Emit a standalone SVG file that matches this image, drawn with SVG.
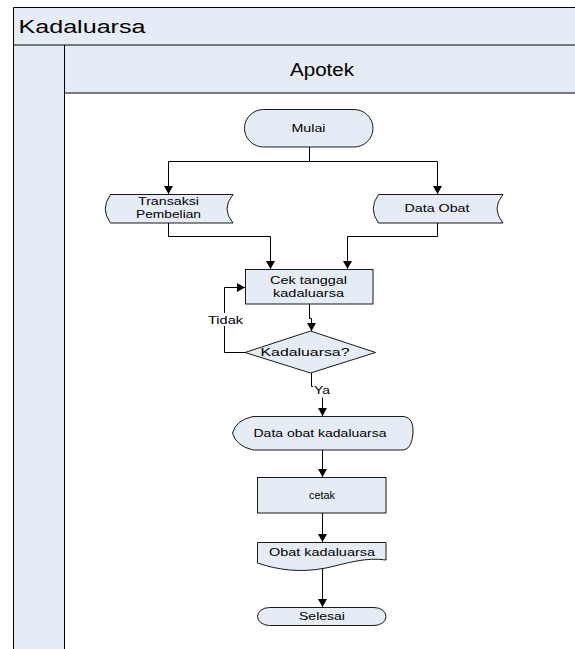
<svg xmlns="http://www.w3.org/2000/svg" width="575" height="649" viewBox="0 0 575 649">
  <defs>
    <marker id="arrow" markerUnits="userSpaceOnUse" markerWidth="9" markerHeight="9" refX="8" refY="4.5" orient="auto">
      <path d="M0,0 L8,4.5 L0,9 Z" fill="#000"/>
    </marker>
    <style>
      .lane { fill: #e6ecf6; stroke: none; }
      .frame { fill: none; stroke: #000; stroke-width: 1; }
      .node { fill: #e6ecf6; stroke: #000; stroke-width: 0.9; }
      .conn { fill: none; stroke: #000; stroke-width: 1; marker-end: url(#arrow); }
      .plain { fill: none; stroke: #000; stroke-width: 1; }
      .t { font-family: "Liberation Sans", Arial, sans-serif; fill: #000; text-anchor: middle; font-size: 10.5px; }
      .big { font-family: "Liberation Sans", Arial, sans-serif; fill: #000; font-size: 17.5px; }
      .lbl { fill: #fff; stroke: none; }
    </style>
  </defs>

  <rect width="575" height="649" fill="#fff"/>

  <!-- swimlane frame -->
  <g id="pool">
    <rect class="lane" x="13.5" y="7.5" width="562" height="37.5"/>
    <rect class="lane" x="13.5" y="45" width="51" height="604"/>
    <rect class="lane" x="64.5" y="45" width="511" height="48"/>
    <path class="frame" d="M576,7.5 H13.5 V649 M13.5,45 H576 M64.5,45 V649 M64.5,93 H576"/>
    <text class="big" x="18.5" y="33" textLength="127" lengthAdjust="spacingAndGlyphs">Kadaluarsa</text>
    <text class="big" x="290" y="76" textLength="64" lengthAdjust="spacingAndGlyphs">Apotek</text>
  </g>

  <!-- connectors -->
  <g id="connectors">
    <path class="conn" d="M309.5,147 V161.5 H168.5 V194"/>
    <path class="conn" d="M309.5,147 V161.5 H437.5 V194"/>
    <path class="conn" d="M168.5,223 V236.5 H270.5 V269"/>
    <path class="conn" d="M437.5,223 V236.5 H347.5 V269"/>
    <path class="conn" d="M309.5,304 V318.5 H311.5 V331"/>
    <path class="conn" d="M245,352.5 H224.5 V287.5 H245"/>
    <path class="conn" d="M311.5,373 V386.5 H322.5 V416"/>
    <path class="conn" d="M322.5,450 V477"/>
    <path class="conn" d="M322.5,513 V542"/>
    <path class="conn" d="M322.5,569 V607"/>
    <rect class="lbl" x="207" y="313" width="37" height="13"/>
    <text class="t" x="225.5" y="323.5" textLength="35" lengthAdjust="spacingAndGlyphs">Tidak</text>
    <rect class="lbl" x="313" y="386" width="18" height="11.5"/>
    <text class="t" x="322" y="394" textLength="16" lengthAdjust="spacingAndGlyphs">Ya</text>
  </g>

  <g id="mulai">
    <rect class="node" x="244.5" y="109.5" width="128.5" height="37.5" rx="19" ry="18.75"/>
    <text class="t" x="308.5" y="132" textLength="34" lengthAdjust="spacingAndGlyphs">Mulai</text>
  </g>

  <g id="transaksi-pembelian">
    <path class="node" d="M110.5,194.5 H233 Q221,208.75 233,223 H110.5 Q100,208.75 110.5,194.5 Z"/>
    <text class="t" x="168.5" y="205" textLength="61" lengthAdjust="spacingAndGlyphs">Transaksi</text>
    <text class="t" x="168.5" y="217.5" textLength="65" lengthAdjust="spacingAndGlyphs">Pembelian</text>
  </g>

  <g id="data-obat">
    <path class="node" d="M378.5,194.5 H503 Q491,208.75 503,223 H378.5 Q368,208.75 378.5,194.5 Z"/>
    <text class="t" x="437" y="212" textLength="65" lengthAdjust="spacingAndGlyphs">Data Obat</text>
  </g>

  <g id="cek-tanggal">
    <rect class="node" x="245.5" y="269.5" width="127.5" height="34.5"/>
    <text class="t" x="308.5" y="283.5" textLength="77" lengthAdjust="spacingAndGlyphs">Cek tanggal</text>
    <text class="t" x="308.5" y="297" textLength="71" lengthAdjust="spacingAndGlyphs">kadaluarsa</text>
  </g>

  <g id="kadaluarsa-decision">
    <path class="node" d="M310.5,331 L375.5,352.5 L310.5,373 L245,352.5 Z"/>
    <text class="t" x="305" y="356" textLength="89" lengthAdjust="spacingAndGlyphs">Kadaluarsa?</text>
  </g>

  <g id="data-obat-kadaluarsa">
    <path class="node" d="M253,416.5 H404 Q414,418 413,433 Q412,448 404,450 H253 Q236,446 232.5,433 Q236,420 253,416.5 Z"/>
    <text class="t" x="320" y="437" textLength="133" lengthAdjust="spacingAndGlyphs">Data obat kadaluarsa</text>
  </g>

  <g id="cetak">
    <rect class="node" x="257.5" y="477.5" width="128.5" height="35.5"/>
    <text class="t" x="322" y="498.5" textLength="26" lengthAdjust="spacingAndGlyphs">cetak</text>
  </g>

  <g id="obat-kadaluarsa">
    <path class="node" d="M257.5,542.5 H386 V560 C366,557 348,563 326,568 C300,573 278,570 257.5,563 Z"/>
    <text class="t" x="322" y="555.5" textLength="106" lengthAdjust="spacingAndGlyphs">Obat kadaluarsa</text>
  </g>

  <g id="selesai">
    <rect class="node" x="257.5" y="607.5" width="128.5" height="18" rx="12" ry="9"/>
    <text class="t" x="322" y="620" textLength="46" lengthAdjust="spacingAndGlyphs">Selesai</text>
  </g>
</svg>
